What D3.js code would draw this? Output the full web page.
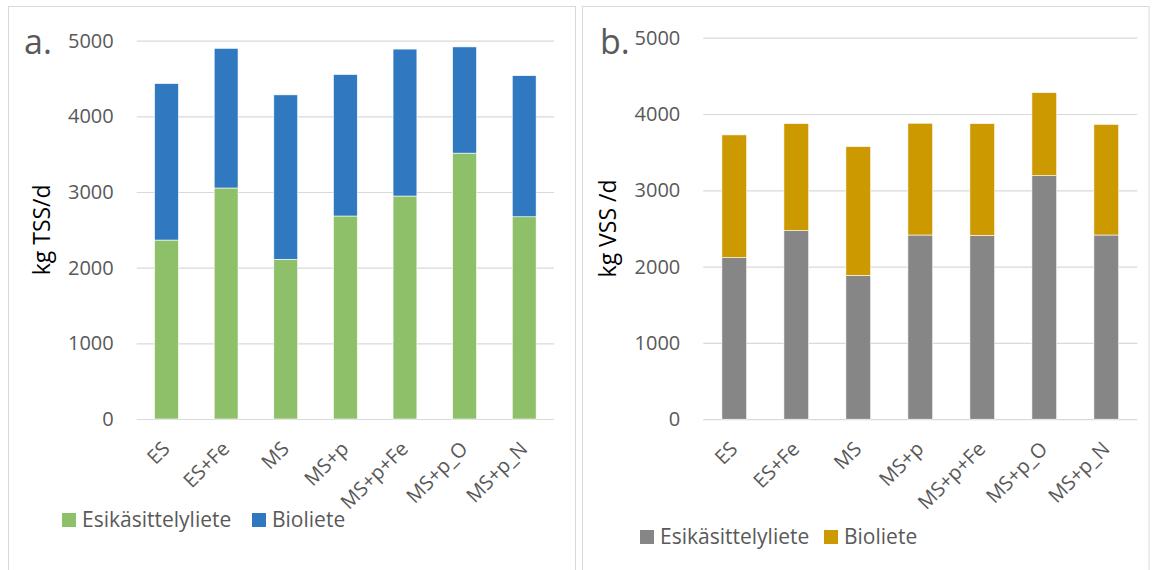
<!DOCTYPE html>
<html>
<head>
<meta charset="utf-8">
<script src="https://cdn.jsdelivr.net/npm/d3@7"></script>
<style>
  html, body { margin: 0; padding: 0; background: #fff; }
  svg { display: block; font-family: "Open Sans", "DejaVu Sans", sans-serif; }
</style>
</head>
<body>
<svg id="chart" width="1152" height="570"></svg>
<script>
// Sludge production per process alternative (kg/d)
const categories = ["ES", "ES+Fe", "MS", "MS+p", "MS+p+Fe", "MS+p_O", "MS+p_N"];
const seriesNames = ["Esikäsittelyliete", "Bioliete"];

// a. total suspended solids
const tssPrimary = [2365, 3053, 2111, 2683, 2947, 3514, 2673];
const tssBio     = [2068, 1846, 2173, 1870, 1942, 1404, 1865];

// b. volatile suspended solids
const vssPrimary = [2118, 2471, 1885, 2414, 2409, 3192, 2414];
const vssBio     = [1608, 1403, 1688, 1465, 1465, 1088, 1451];

const yTicks = [0, 1000, 2000, 3000, 4000, 5000];

const svg = d3.select("#chart");
const textGrey = "#595959";
const lineGrey = "#d9d9d9";

const panels = [
  {
    letter: "a.", title: "kg TSS/d",
    primary: tssPrimary, bio: tssBio,
    colors: ["#8dc068", "#3079c0"],
    frame: [8, 6, 567, 580],
    x: [136.7, 554], y: [419, 40.7],
    letterPos: [24, 54], titleX: 50,
    legend: [[62, 82], [252, 272]], legendY: 513
  },
  {
    letter: "b.", title: "kg VSS /d",
    primary: vssPrimary, bio: vssBio,
    colors: ["#868686", "#cc9a00"],
    frame: [582, 6, 566.5, 580],
    x: [703.3, 1137.3], y: [419.2, 37.7],
    letterPos: [600, 54], titleX: 616,
    legend: [[640, 660], [824, 844]], legendY: 530
  }
];

panels.forEach(p => {
  const g = svg.append("g");

  // panel frame
  g.append("rect")
    .attr("x", p.frame[0] + 0.5).attr("y", p.frame[1] + 0.5)
    .attr("width", p.frame[2]).attr("height", p.frame[3])
    .attr("fill", "#fff").attr("stroke", lineGrey).attr("stroke-width", 1);

  const x = d3.scaleBand()
    .domain(categories)
    .range(p.x)
    .paddingInner(0.6)
    .paddingOuter(0.3);

  const y = d3.scaleLinear().domain([0, 5000]).range(p.y);

  // value axis with gridlines
  const yAxis = g.append("g")
    .attr("transform", `translate(${p.x[0]},0)`)
    .call(d3.axisLeft(y)
      .tickValues(yTicks)
      .tickFormat(d3.format("d"))
      .tickSizeInner(-(p.x[1] - p.x[0]))
      .tickSizeOuter(0)
      .tickPadding(23));
  yAxis.select(".domain").remove();
  yAxis.selectAll(".tick line").attr("stroke", lineGrey).attr("stroke-width", 1.2);
  yAxis.selectAll(".tick text")
    .attr("fill", textGrey)
    .style("font-size", "20px")
    .style("font-family", "'Open Sans', sans-serif");

  // stacked bars
  const rows = categories.map((c, i) => ({ cat: c, primary: p.primary[i], bio: p.bio[i] }));
  const stacked = d3.stack().keys(["primary", "bio"])(rows);

  g.selectAll("g.series")
    .data(stacked)
    .join("g")
    .attr("class", "series")
    .attr("fill", (d, i) => p.colors[i])
    .selectAll("rect")
    .data(d => d)
    .join("rect")
    .attr("x", d => x(d.data.cat))
    .attr("width", x.bandwidth())
    .attr("y", d => y(d[1]))
    .attr("height", d => y(d[0]) - y(d[1]))
    .attr("stroke", "#fff")
    .attr("stroke-width", 0.6);

  // category labels
  g.selectAll("text.cat")
    .data(categories)
    .join("text")
    .attr("class", "cat")
    .attr("transform", d => `translate(${x(d) + x.bandwidth() / 2 + 4.5},${p.y[0] + 31}) rotate(-45)`)
    .attr("text-anchor", "end")
    .attr("fill", textGrey)
    .style("font-size", "20px")
    .text(d => d);

  // axis title
  g.append("text")
    .attr("transform", `translate(${p.titleX},${(p.y[0] + p.y[1]) / 2}) rotate(-90)`)
    .attr("text-anchor", "middle")
    .attr("fill", "#000")
    .style("font-size", "23px")
    .text(p.title);

  // panel letter
  g.append("text")
    .attr("x", p.letterPos[0]).attr("y", p.letterPos[1])
    .attr("fill", textGrey)
    .style("font-size", "34px")
    .text(p.letter);

  // legend
  const leg = g.selectAll("g.legend")
    .data(seriesNames)
    .join("g")
    .attr("class", "legend");
  leg.append("rect")
    .attr("x", (d, i) => p.legend[i][0])
    .attr("y", p.legendY)
    .attr("width", 14).attr("height", 14)
    .attr("fill", (d, i) => p.colors[i]);
  leg.append("text")
    .attr("x", (d, i) => p.legend[i][1])
    .attr("y", p.legendY + 13.5)
    .attr("fill", textGrey)
    .style("font-size", "21px")
    .text(d => d);
});
</script>
</body>
</html>
